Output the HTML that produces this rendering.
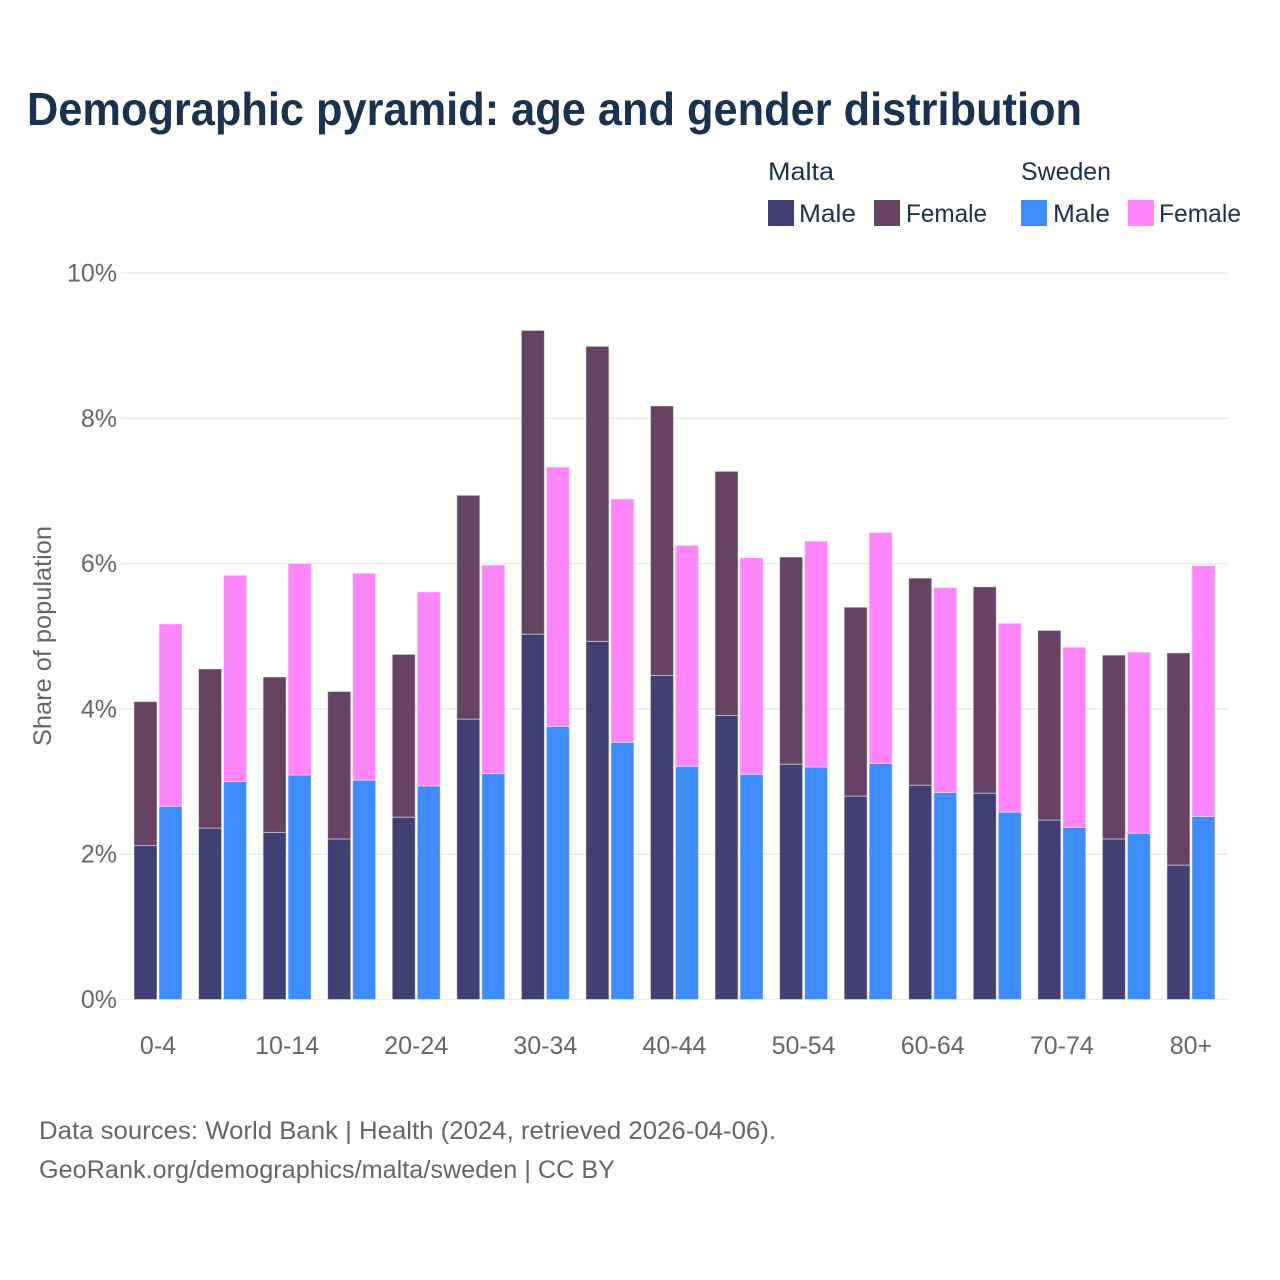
<!DOCTYPE html>
<html lang="en">
<head>
<meta charset="utf-8">
<title>Demographic pyramid</title>
<style>
html,body{margin:0;padding:0;background:#fff;}
svg{display:block;font-family:"Liberation Sans",sans-serif;}
</style>
</head>
<body>
<svg id="chart" width="1280" height="1280" viewBox="0 0 1280 1280">
<rect width="1280" height="1280" fill="#fff"/>
<text x="27" y="125" font-size="46" font-weight="700" fill="#1a3150" textLength="1055" lengthAdjust="spacingAndGlyphs">Demographic pyramid: age and gender distribution</text>
<g id="grid"></g>
<g id="ylabels"></g>
<g id="bars"></g>
<g id="xlabels"></g>
<text transform="translate(51,636) rotate(-90)" text-anchor="middle" font-size="25" fill="#666" textLength="220" lengthAdjust="spacingAndGlyphs">Share of population</text>
<g>
<text x="768" y="180" font-size="25" fill="#1a3150" textLength="66" lengthAdjust="spacingAndGlyphs">Malta</text>
<text x="1021" y="180" font-size="25" fill="#1a3150" textLength="90" lengthAdjust="spacingAndGlyphs">Sweden</text>
<rect x="768" y="200" width="26" height="26" fill="#423f72"/>
<text x="799" y="222" font-size="25" fill="#1a3150" textLength="57" lengthAdjust="spacingAndGlyphs">Male</text>
<rect x="874" y="200" width="26" height="26" fill="#684263"/>
<text x="906" y="222" font-size="25" fill="#1a3150" textLength="81" lengthAdjust="spacingAndGlyphs">Female</text>
<rect x="1021" y="200" width="26" height="26" fill="#3f8cff"/>
<text x="1053" y="222" font-size="25" fill="#1a3150" textLength="57" lengthAdjust="spacingAndGlyphs">Male</text>
<rect x="1128" y="200" width="26" height="26" fill="#ff85fb"/>
<text x="1159" y="222" font-size="25" fill="#1a3150" textLength="82" lengthAdjust="spacingAndGlyphs">Female</text>
</g>
<text x="39" y="1139" font-size="25" fill="#666" textLength="737" lengthAdjust="spacingAndGlyphs">Data sources: World Bank | Health (2024, retrieved 2026-04-06).</text>
<text x="39" y="1178" font-size="25" fill="#666" textLength="576" lengthAdjust="spacingAndGlyphs">GeoRank.org/demographics/malta/sweden | CC BY</text>
</svg>
<script>
const categories = ["0-4","5-9","10-14","15-19","20-24","25-29","30-34","35-39","40-44","45-49","50-54","55-59","60-64","65-69","70-74","75-79","80+"];
const shownCategoryLabels = ["0-4","10-14","20-24","30-34","40-44","50-54","60-64","70-74","80+"];
const maltaMale = [2.12,2.36,2.30,2.21,2.51,3.86,5.03,4.93,4.46,3.91,3.24,2.80,2.95,2.84,2.47,2.21,1.85];
const maltaFemale = [1.98,2.19,2.14,2.03,2.24,3.08,4.18,4.06,3.71,3.36,2.85,2.60,2.85,2.84,2.61,2.53,2.92];
const swedenMale = [2.66,3.00,3.09,3.02,2.94,3.11,3.76,3.54,3.21,3.10,3.20,3.25,2.85,2.58,2.37,2.29,2.52];
const swedenFemale = [2.51,2.84,2.91,2.85,2.67,2.87,3.57,3.35,3.04,2.98,3.11,3.18,2.82,2.60,2.48,2.49,3.45];
const yTicks = [0,2,4,6,8,10];

const NS = "http://www.w3.org/2000/svg";
const plotLeft = 121, plotRight = 1228, yZero = 999.5, yTen = 273;
const firstCenter = 158, step = 64.56, barWidth = 23, barGap = 2;

function yScale(v){ return yZero - (v / 10) * (yZero - yTen); }
function xScale(i){ return firstCenter + i * step; }

function make(tag, attrs, parent){
  const el = document.createElementNS(NS, tag);
  for (const k in attrs) el.setAttribute(k, attrs[k]);
  parent.appendChild(el);
  return el;
}

const gridG = document.getElementById("grid");
const yLabG = document.getElementById("ylabels");
yTicks.forEach(function(t){
  const line = make("line", {x1:plotLeft, x2:plotRight, y1:yScale(t), y2:yScale(t), stroke:"#ececec", "stroke-width":1.6}, gridG);
  
  
  const lab = make("text", {x:117, y:yScale(t)+8.5, "text-anchor":"end", "font-size":25, fill:"#666"}, yLabG);
  
  
  lab.textContent = t + "%";
});

const barsG = document.getElementById("bars");
function drawBar(x, v0, v1, color){
  const top = yScale(v1), bottom = yScale(v0);
  const r = make("rect", {x:x, y:top, width:barWidth, height:bottom-top, fill:color, stroke:"#fff", "stroke-opacity":0.45, "stroke-width":1}, barsG);
  
  
}
categories.forEach(function(c, i){
  const cx = xScale(i);
  const mx = cx - barGap/2 - barWidth;
  const sx = cx + barGap/2;
  drawBar(mx, 0, maltaMale[i], "#423f72");
  drawBar(mx, maltaMale[i], maltaMale[i] + maltaFemale[i], "#684263");
  drawBar(sx, 0, swedenMale[i], "#3f8cff");
  drawBar(sx, swedenMale[i], swedenMale[i] + swedenFemale[i], "#ff85fb");
});

const xLabG = document.getElementById("xlabels");
categories.forEach(function(c, i){
  if (shownCategoryLabels.indexOf(c) < 0) return;
  const lab = make("text", {x:xScale(i), y:1054, "text-anchor":"middle", "font-size":25, fill:"#666"}, xLabG);
  
  
  lab.textContent = c;
});
</script>
</body>
</html>
